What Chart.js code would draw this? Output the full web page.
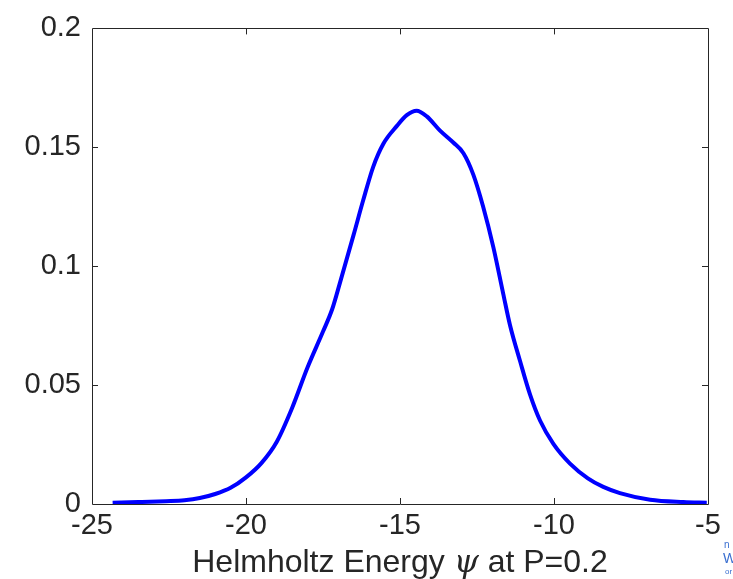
<!DOCTYPE html>
<html>
<head>
<meta charset="utf-8">
<script src="https://cdn.jsdelivr.net/npm/chart.js@4"></script>
<style>
  html, body { margin: 0; padding: 0; background: #fff; }
  #wrap { width: 733px; height: 579px; }
</style>
</head>
<body>
<div id="wrap"><canvas id="densityChart" width="733" height="579"></canvas></div>
<script>
var energy = [-24.33, -23.5, -22.6, -22.0, -21.5, -21.0, -20.5, -20.0, -19.5, -19.0, -18.5, -18.0,
  -17.5, -17.2, -16.95, -16.5, -16.2, -15.87, -15.54, -15.1, -14.78, -14.46, -14.13,
  -13.7, -13.27, -12.94, -12.62, -12.3, -11.97, -11.65, -11.43, -11.1, -10.78, -10.45, -10.02,
  -9.48, -8.9, -8.4, -7.86, -6.88, -5.8, -5.04];
var density = [0.0005, 0.0008, 0.0012, 0.0016, 0.0025, 0.0042, 0.0068, 0.0112, 0.0172, 0.0262, 0.0405, 0.0575,
  0.0725, 0.082, 0.093, 0.1135, 0.1275, 0.1418, 0.1515, 0.159, 0.1635, 0.1654, 0.163,
  0.157, 0.152, 0.1475, 0.1385, 0.125, 0.108, 0.0885, 0.0753, 0.06, 0.0461, 0.035, 0.0253,
  0.017, 0.0108, 0.0072, 0.0046, 0.0018, 0.0008, 0.0005];
var xTicks = [-25, -20, -15, -10, -5];
var yTicks = [0, 0.05, 0.1, 0.15, 0.2];
var yTickLabels = ["0", "0.05", "0.1", "0.15", "0.2"];

var points = [];
for (var i = 0; i < energy.length; i++) {
  points.push({ x: energy[i], y: density[i] });
}

var axisColor = "#262626";
var fontFamily = "'Liberation Sans', Arial, Helvetica, sans-serif";

// box outline, inward ticks on all four sides, axis label and the corner text
var matlabAxes = {
  id: "matlabAxes",
  afterDraw: function (chart) {
    var c = chart.ctx;
    var a = chart.chartArea;
    var xs = chart.scales.x;
    var ys = chart.scales.y;
    var len = 6;
    c.save();
    c.strokeStyle = axisColor;
    c.lineWidth = 1;
    c.beginPath();
    c.rect(Math.round(a.left) + 0.5, Math.round(a.top) + 0.5,
      Math.round(a.right - a.left), Math.round(a.bottom - a.top));
    for (var i = 1; i < xTicks.length - 1; i++) {
      var px = Math.round(xs.getPixelForValue(xTicks[i])) + 0.5;
      c.moveTo(px, a.bottom);
      c.lineTo(px, a.bottom - len);
      c.moveTo(px, a.top);
      c.lineTo(px, a.top + len);
    }
    for (var j = 1; j < yTicks.length - 1; j++) {
      var py = Math.round(ys.getPixelForValue(yTicks[j])) + 0.5;
      c.moveTo(a.left, py);
      c.lineTo(a.left + len, py);
      c.moveTo(a.right, py);
      c.lineTo(a.right - len, py);
    }
    c.stroke();

    // x label: regular text with an italic serif psi
    var parts = [
      { t: "Helmholtz Energy ", f: "32px " + fontFamily },
      { t: "\u03C8", f: "italic 32px 'DejaVu Serif', 'Liberation Serif', serif" },
      { t: " at P=0.2", f: "32px " + fontFamily }
    ];
    var total = 0;
    parts.forEach(function (p) { c.font = p.f; p.w = c.measureText(p.t).width; total += p.w; });
    var x0 = (a.left + a.right) / 2 - total / 2;
    c.fillStyle = axisColor;
    c.textBaseline = "alphabetic";
    c.textAlign = "left";
    parts.forEach(function (p) { c.font = p.f; c.fillText(p.t, x0, 572); x0 += p.w; });

    c.fillStyle = "#3a6fd0";
    c.font = "10px " + fontFamily;
    c.fillText("n", 724, 548);
    c.font = "14px " + fontFamily;
    c.fillText("W", 723, 563);
    c.font = "8px " + fontFamily;
    c.fillText("or", 725, 574);
    c.restore();
  }
};

var ctx = document.getElementById("densityChart").getContext("2d");
var myChart = new Chart(ctx, {
  type: "line",
  data: {
    datasets: [
      {
        data: points,
        borderColor: "#0000ff",
        borderWidth: 4,
        pointRadius: 0,
        fill: false,
        cubicInterpolationMode: "monotone",
      },
    ],
  },
  options: {
    responsive: false,
    animation: false,
    layout: { padding: { left: 0, top: 24, right: 25, bottom: 0 } },
    plugins: { legend: { display: false }, tooltip: { enabled: false } },
    scales: {
      x: {
        type: "linear",
        min: -25,
        max: -5,
        afterFit: function (s) { s.height = 75; },
        afterBuildTicks: function (s) { s.ticks = xTicks.map(function (v) { return { value: v }; }); },
        grid: { display: false, drawTicks: false },
        border: { display: false },
        ticks: {
          padding: 5,
          color: axisColor,
          font: { size: 29, family: fontFamily },
          maxRotation: 0,
          callback: function (v) { return String(v); },
        },
      },
      y: {
        type: "linear",
        min: 0,
        max: 0.2,
        afterFit: function (s) { s.width = 92; },
        afterBuildTicks: function (s) { s.ticks = yTicks.map(function (v) { return { value: v }; }); },
        grid: { display: false, drawTicks: false },
        border: { display: false },
        ticks: {
          padding: 11,
          color: axisColor,
          font: { size: 29, family: fontFamily },
          callback: function (v, idx) { return yTickLabels[idx]; },
        },
      },
    },
  },
  plugins: [matlabAxes],
});
</script>
</body>
</html>
